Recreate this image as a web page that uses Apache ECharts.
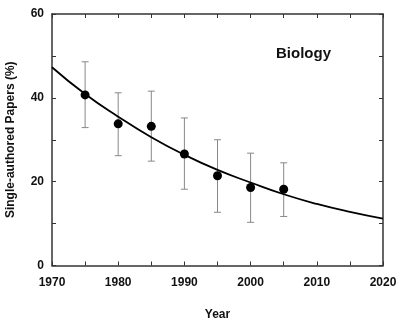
<!DOCTYPE html>
<html>
<head>
<meta charset="utf-8">
<script src="https://cdn.jsdelivr.net/npm/echarts@6/dist/echarts.min.js"></script>
<style>
html,body{margin:0;padding:0;background:#fff;}
#chart{width:400px;height:323px;}
</style>
</head>
<body>
<div id="chart"></div>
<script>
// Data
const years = [1975, 1980, 1985, 1990, 1995, 2000, 2005];
const meanPct = [40.7, 33.8, 33.2, 26.6, 21.4, 18.6, 18.2];
const errHigh = [48.6, 41.2, 41.6, 35.2, 30.0, 26.8, 24.5];
const errLow = [32.9, 26.2, 24.9, 18.2, 12.7, 10.3, 11.7];
const fitYears = [1970, 1975, 1980, 1985, 1990, 1995, 2000, 2005, 2010, 2015, 2020];
const fitPct = [47.3, 40.9, 35.5, 30.6, 26.4, 22.8, 19.8, 17.0, 14.7, 12.8, 11.2];
const xTickLabels = [1970, 1980, 1990, 2000, 2010, 2020];
const yTickLabels = [0, 20, 40, 60];

const FONT = '"Liberation Sans", Arial, sans-serif';
const AXIS_COLOR = '#333';
const labelStyle = { fontFamily: FONT, fontWeight: 'bold', fontSize: 12, color: '#111' };

function xAxisCfg(pos, show) {
  return {
    type: 'value', position: pos, min: 1970, max: 2020, interval: 5,
    axisLine: { show: true, onZero: false, lineStyle: { color: AXIS_COLOR, width: 1.5 } },
    axisTick: { show: true, inside: true, length: 4, lineStyle: { color: AXIS_COLOR } },
    splitLine: { show: false },
    axisLabel: Object.assign({
      show: show, margin: 11,
      formatter: v => xTickLabels.includes(v) ? String(v) : ''
    }, labelStyle)
  };
}
function yAxisCfg(pos, show) {
  return {
    type: 'value', position: pos, min: 0, max: 60, interval: 10,
    axisLine: { show: true, onZero: false, lineStyle: { color: AXIS_COLOR, width: 1.5 } },
    axisTick: { show: true, inside: true, length: 4, lineStyle: { color: AXIS_COLOR } },
    splitLine: { show: false },
    axisLabel: Object.assign({
      show: show, margin: 8, padding: [0, 0, 4, 0],
      formatter: v => yTickLabels.includes(v) ? String(v) : ''
    }, labelStyle)
  };
}

const xb = xAxisCfg('bottom', true);
xb.name = 'Year';
xb.nameLocation = 'middle';
xb.nameGap = 43;
xb.nameTextStyle = { fontFamily: FONT, fontWeight: 'bold', fontSize: 12, color: '#111' };

const yl = yAxisCfg('left', true);
yl.name = 'Single-authored Papers (%)';
yl.nameLocation = 'middle';
yl.nameGap = 35.5;
yl.nameTextStyle = { fontFamily: FONT, fontWeight: 'bold', fontSize: 12, color: '#111' };

const chart = echarts.init(document.getElementById('chart'), null, { renderer: 'canvas' });
chart.setOption({
  backgroundColor: '#fff',
  animation: false,
  title: {
    text: 'Biology', left: 276, top: 46, padding: 0,
    textStyle: { fontFamily: FONT, fontWeight: 'bold', fontSize: 15, color: '#111' }
  },
  grid: { left: 52, right: 17, top: 14, bottom: 57.5, containLabel: false, outerBoundsMode: 'none' },
  xAxis: [xb, xAxisCfg('top', false)],
  yAxis: [yl, yAxisCfg('right', false)],
  series: [
    {
      type: 'custom',
      xAxisIndex: 0, yAxisIndex: 0,
      data: years.map((y, i) => [y, errLow[i], errHigh[i]]),
      encode: { x: 0, y: [1, 2] },
      renderItem: function (params, api) {
        const x = api.value(0);
        const lo = api.coord([x, api.value(1)]);
        const hi = api.coord([x, api.value(2)]);
        const cap = 3.5;
        const style = { stroke: '#888', lineWidth: 1 };
        return {
          type: 'group',
          children: [
            { type: 'line', shape: { x1: lo[0], y1: lo[1], x2: hi[0], y2: hi[1] }, style: style },
            { type: 'line', shape: { x1: hi[0] - cap, y1: hi[1], x2: hi[0] + cap, y2: hi[1] }, style: style },
            { type: 'line', shape: { x1: lo[0] - cap, y1: lo[1], x2: lo[0] + cap, y2: lo[1] }, style: style }
          ]
        };
      },
      z: 2
    },
    {
      type: 'line',
      data: fitYears.map((y, i) => [y, fitPct[i]]),
      smooth: true,
      symbol: 'none',
      lineStyle: { color: '#000', width: 1.8 },
      z: 3
    },
    {
      type: 'scatter',
      data: years.map((y, i) => [y, meanPct[i]]),
      symbol: 'circle',
      symbolSize: 9,
      itemStyle: { color: '#000', opacity: 1 },
      z: 4
    }
  ]
});
</script>
</body>
</html>
